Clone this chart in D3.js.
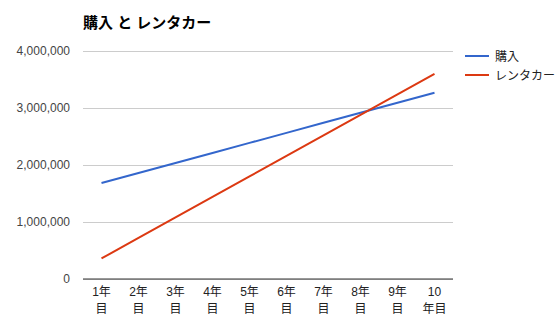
<!DOCTYPE html>
<html><head><meta charset="utf-8">
<script src="https://cdn.jsdelivr.net/npm/d3@7"></script>
<style>
body{margin:0;background:#fff;}
text{font-family:"Liberation Sans","Noto Sans CJK JP",Arial,sans-serif;}
</style></head>
<body><svg id="c" width="559" height="331"></svg>
<script>
const title = "購入 と レンタカー";
const categories = ["1年目","2年目","3年目","4年目","5年目","6年目","7年目","8年目","9年目","10年目"];
const seriesNames = ["購入","レンタカー"];
const purchase = [1684000,1860000,2036000,2212000,2388000,2564000,2740000,2916000,3092000,3268000];
const rental = [360000,720000,1080000,1440000,1800000,2160000,2520000,2880000,3240000,3600000];
const yTicks = [0,1000000,2000000,3000000,4000000];
const colors = ["#3366cc","#dc3912"];

const svg = d3.select("#c");
const m = {l:83, r:453, t:51, b:279};
const x = d3.scaleBand().domain(categories).range([m.l, m.r]);
const y = d3.scaleLinear().domain([0,4000000]).range([m.b, m.t]);

svg.append("text").attr("x",83).attr("y",28).attr("font-size",15).attr("font-weight","bold").attr("fill","#000").text(title);

const yAxis = svg.append("g").attr("transform",`translate(${m.l},0)`)
  .call(d3.axisLeft(y).tickValues(yTicks).tickSize(-(m.r-m.l)).tickFormat(d3.format(",")));
yAxis.select(".domain").remove();
yAxis.selectAll(".tick line").attr("stroke","#cccccc");
yAxis.selectAll(".tick text").attr("x",-13).attr("font-size",12).attr("fill","#444").attr("font-family","\"Liberation Sans\",Arial,sans-serif");

svg.append("line").attr("x1",m.l).attr("x2",m.r).attr("y1",y(0)).attr("y2",y(0)).attr("stroke","#333").attr("stroke-width",1);

const xAxis = svg.append("g").attr("transform",`translate(0,${m.b})`)
  .call(d3.axisBottom(x).tickSize(0).tickFormat(""));
xAxis.select(".domain").remove();
xAxis.selectAll(".tick").each(function(d){
  const t = d3.select(this).append("text").attr("font-size",12).attr("fill","#222").attr("text-anchor","middle");
  t.append("tspan").attr("x",0).attr("y",17).text(d.slice(0,2));
  t.append("tspan").attr("x",0).attr("y",34).text(d.slice(2));
});

const line = d3.line().x((d,i)=>x(categories[i])+x.bandwidth()/2).y(d=>y(d));
[purchase, rental].forEach((s,i)=>{
  svg.append("path").datum(s).attr("d",line).attr("fill","none").attr("stroke",colors[i]).attr("stroke-width",2);
});

seriesNames.forEach((n,i)=>{
  const ly = 56 + i*19;
  svg.append("line").attr("x1",465).attr("x2",489).attr("y1",ly).attr("y2",ly).attr("stroke",colors[i]).attr("stroke-width",2);
  svg.append("text").attr("x",495).attr("y",ly+4.5).attr("font-size",12).attr("fill","#222").text(n);
});
</script></body></html>
